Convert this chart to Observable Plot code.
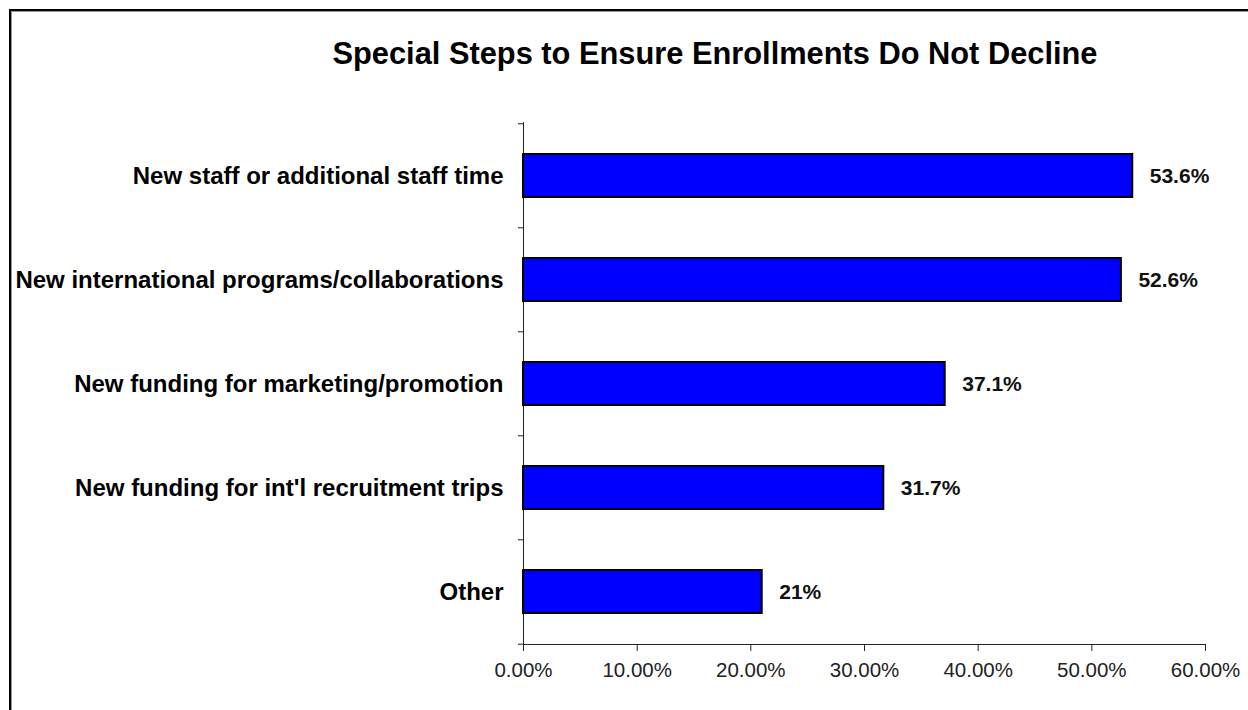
<!DOCTYPE html>
<html>
<head>
<meta charset="utf-8">
<script src="https://cdn.jsdelivr.net/npm/d3@7"></script>
<script src="https://cdn.jsdelivr.net/npm/@observablehq/plot@0.6"></script>
<style>
  html, body { margin: 0; padding: 0; background: #fff; }
  #wrap { position: relative; width: 1248px; height: 710px; overflow: hidden; font-family: "Liberation Sans", Arial, sans-serif; }
  #frame { position: absolute; left: 9px; top: 9px; width: 1400px; height: 900px; border-top: 2px solid #000; border-left: 2px solid #000; box-shadow: inset 1px 1px 0 #999; }
  #title { position: absolute; left: 315px; width: 800px; top: 39px; text-align: center; font-size: 30.8px; line-height: 1; font-weight: bold; color: #000; }
  #chart { position: absolute; left: 0; top: 0; }
</style>
</head>
<body>
<div id="wrap">
  <div id="frame"></div>
  <div id="chart"></div>
  <div id="title">Special Steps to Ensure Enrollments Do Not Decline</div>
</div>
<script>
const categories = [
  "New staff or additional staff time",
  "New international programs/collaborations",
  "New funding for marketing/promotion",
  "New funding for int'l recruitment trips",
  "Other"
];
const values = [0.536, 0.526, 0.371, 0.317, 0.21];
const valueLabels = ["53.6%", "52.6%", "37.1%", "31.7%", "21%"];
const xTicks = [0, 0.1, 0.2, 0.3, 0.4, 0.5, 0.6];

const data = categories.map((c, i) => ({category: c, value: values[i], label: valueLabels[i]}));

const marginTop = 122, marginBottom = 66;
const step = (710 - marginTop - marginBottom) / 5;

const chart = Plot.plot({
  width: 1248,
  height: 710,
  marginLeft: 523,
  marginRight: 43,
  marginTop,
  marginBottom,
  style: {fontFamily: "'Liberation Sans', Arial, sans-serif", background: "transparent"},
  x: {domain: [0, 0.6]},
  y: {domain: categories, paddingInner: 0.59, paddingOuter: 0.295},
  marks: [
    Plot.ruleX([0], {stroke: "#222", strokeWidth: 1}),
    Plot.frame({anchor: "bottom", stroke: "#222", strokeWidth: 1}),
    Plot.ruleY(categories, {y: d => d, x1: -0.0044, x2: 0, dy: -step / 2, stroke: "#222"}),
    Plot.ruleY(categories.slice(-1), {y: d => d, x1: -0.0044, x2: 0, dy: step / 2, stroke: "#222"}),
    Plot.barX(data, {x: "value", y: "category", fill: "#0000ff", stroke: "#000", strokeWidth: 2}),
    Plot.text(data, {x: "value", y: "category", text: "label", textAnchor: "start", dx: 17, fontSize: 21, fontWeight: "bold", fill: "#111"}),
    Plot.axisX({ticks: xTicks, tickFormat: d3.format(".2%"), tickSize: 7, tickPadding: 11, fontSize: 20.5, fill: "#222", stroke: "#222", label: null}),
    Plot.axisY({tickSize: 0, tickPadding: 20, fontSize: 24, fontWeight: "bold", fill: "#000", label: null})
  ]
});
document.getElementById("chart").appendChild(chart);
</script>
</body>
</html>
